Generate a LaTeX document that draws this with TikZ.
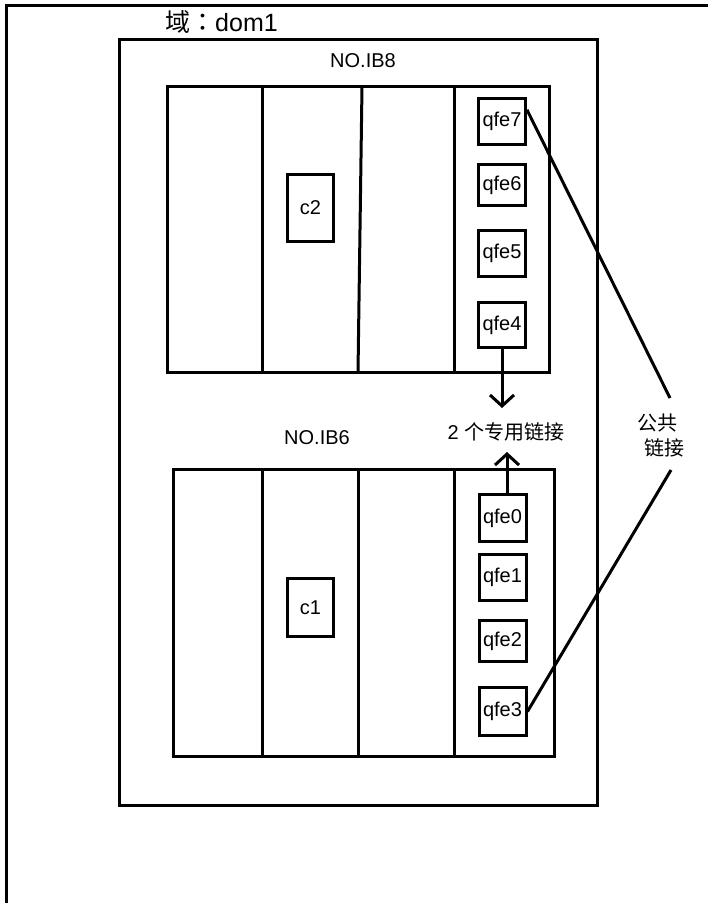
\documentclass[tikz,border=0pt]{standalone}
\usepackage{fontspec}
\setmainfont{Liberation Sans}
\newfontfamily\cjk{Noto Sans CJK SC}
\newfontfamily\cjktc{Noto Sans CJK TC}
\usetikzlibrary{arrows.meta}
\begin{document}
\begin{tikzpicture}[x=1pt,y=-1pt,
  thickline/.style={line width=3pt},
  box/.style={draw,line width=3pt,inner sep=0pt},
  port/.style={box,minimum width=47pt,font=\fontsize{20}{24}\selectfont},
  lbl/.style={inner sep=0pt,font=\fontsize{20}{24}\selectfont},
  arr/.style={line width=3pt,-{Straight Barb[length=11pt,width=24pt,line width=3pt]}}
]
\clip (0,0) rectangle (708,903);
\fill[white] (0,0) rectangle (708,903);
% outer frame
\draw[thickline] (6.5,930) -- (6.5,5) -- (730,5);
% domain box
\node[box,minimum width=478pt,minimum height=766pt] (dom) at (358.5,422.5) {};
\node[inner sep=0pt,font=\fontsize{25}{29}\selectfont] (title) at (221.5,22) {{\cjktc 域：}dom1};
% rack IB8
\node[lbl] (lab8) at (363,61) {NO.IB8};
\node[box,minimum width=382pt,minimum height=286pt] (ib8) at (358.5,229.5) {};
\draw[thickline] (262,86.5) -- (262,372.5);
\draw[thickline] (362,86.5) -- (358,372.5);
\draw[thickline] (454.5,86.5) -- (454.5,372.5);
\node[port,minimum width=46pt,minimum height=67pt] (c2) at (310.5,208) {c2};
\node[port,minimum height=46pt] (qfe7) at (502,121.5) {qfe7};
\node[port,minimum height=41pt] (qfe6) at (502,185) {qfe6};
\node[port,minimum height=46pt] (qfe5) at (502,253.5) {qfe5};
\node[port,minimum height=45pt] (qfe4) at (502,325) {qfe4};
% rack IB6
\node[lbl] (lab6) at (317,438) {NO.IB6};
\node[box,minimum width=381pt,minimum height=287pt] (ib6) at (364,613) {};
\draw[thickline] (262,469.5) -- (262,756.5);
\draw[thickline] (358,469.5) -- (358,756.5);
\draw[thickline] (454.5,469.5) -- (454.5,756.5);
\node[port,minimum width=46pt,minimum height=58pt] (c1) at (310.5,607.5) {c1};
\node[port,minimum height=47pt] (qfe0) at (502.5,518) {qfe0};
\node[port,minimum height=46pt] (qfe1) at (502.5,577.5) {qfe1};
\node[port,minimum height=41pt] (qfe2) at (502.5,641) {qfe2};
\node[port,minimum height=48pt] (qfe3) at (502.5,711.5) {qfe3};
% private links
\node[lbl] (priv) at (506,432) {2 {\cjk 个专用链接}};
\coordinate (tipdown) at (502,408);
\coordinate (tipup) at (507,452);
\draw[arr] (qfe4.south) -- (tipdown);
\draw[arr] (qfe0.north -| tipup) -- (tipup);
% public links
\node[lbl] (pub1) at (657,423) {\cjk 公共};
\node[lbl] (pub2) at (664,448) {\cjk 链接};
\coordinate (pl1) at (670,398);
\coordinate (pl2) at (671,470);
\draw[thickline] (qfe7.25) -- (pl1);
\draw[thickline] (qfe3.east) -- (pl2);
\end{tikzpicture}
\end{document}
